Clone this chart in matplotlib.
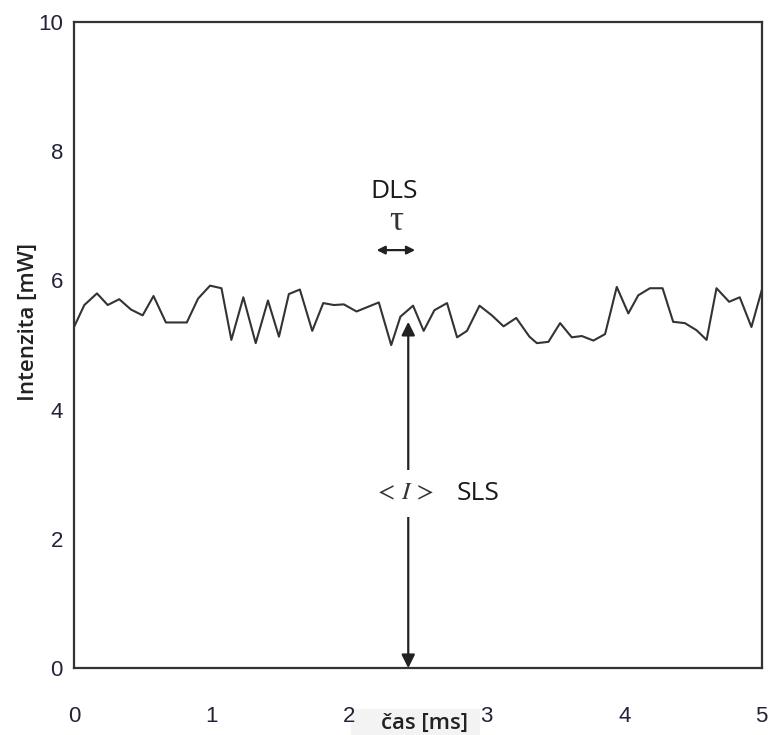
import matplotlib.pyplot as plt
from matplotlib.patches import Rectangle

# time [ms] and intensity [mW]
cas = [0.0, 0.075, 0.167, 0.245, 0.329, 0.414, 0.499, 0.578, 0.668, 0.820,
       0.902, 0.989, 1.072, 1.144, 1.231, 1.321, 1.410, 1.490, 1.562, 1.642,
       1.732, 1.812, 1.889, 1.962, 2.054, 2.216, 2.306, 2.373, 2.465, 2.542,
       2.620, 2.712, 2.785, 2.857, 2.948, 3.038, 3.123, 3.215, 3.311, 3.365,
       3.449, 3.534, 3.619, 3.692, 3.776, 3.861, 3.946, 4.030, 4.102, 4.187,
       4.279, 4.356, 4.441, 4.526, 4.599, 4.671, 4.763, 4.840, 4.925, 5.0]
intenzita = [5.28, 5.62, 5.80, 5.62, 5.71, 5.55, 5.46, 5.76, 5.35, 5.35,
             5.72, 5.92, 5.88, 5.08, 5.74, 5.03, 5.69, 5.13, 5.79, 5.86,
             5.22, 5.65, 5.62, 5.63, 5.52, 5.66, 5.00, 5.44, 5.61, 5.22,
             5.54, 5.65, 5.12, 5.22, 5.61, 5.46, 5.29, 5.42, 5.13, 5.03,
             5.05, 5.34, 5.12, 5.14, 5.07, 5.17, 5.90, 5.49, 5.77, 5.88,
             5.88, 5.36, 5.34, 5.23, 5.08, 5.88, 5.67, 5.74, 5.28, 5.85]
xticks = [0, 1, 2, 3, 4, 5]
yticks = [0, 2, 4, 6, 8, 10]

plt.rcParams['font.family'] = ['Open Sans', 'DejaVu Sans']
plt.rcParams['mathtext.fontset'] = 'stix'

fig = plt.figure(figsize=(7.71, 7.35), dpi=100)
# light grey strip behind the x label, kept under the tick labels
fig.patches.append(Rectangle((351 / 771, 0), 129 / 771, 26 / 735,
                             transform=fig.transFigure, facecolor='#f3f3f3',
                             edgecolor='none', zorder=-1))
ax = fig.add_axes([0.096, 0.091, 0.892, 0.879])

ax.plot(cas, intenzita, color='#333333', lw=1.5)

ax.set_xlim(0, 5)
ax.set_ylim(0, 10)
ax.set_xticks(xticks)
ax.set_yticks(yticks)
ax.tick_params(length=0, labelsize=16, colors='#22223a',
               labelfontfamily='Liberation Sans')
ax.tick_params(axis='x', pad=27)
ax.tick_params(axis='y', pad=8)
for s in ax.spines.values():
    s.set_color('#333333')
    s.set_linewidth(1.6)

# SLS arrow
ax.annotate('', xy=(2.43, 5.36), xytext=(2.43, 0.0),
            arrowprops=dict(arrowstyle='<|-|>', color='#222222', lw=1.6,
                            mutation_scale=20, shrinkA=0, shrinkB=0))
ax.text(2.40, 2.71, r'$<\,I\,>$', ha='center', va='center', fontsize=18,
        color='#333333', bbox=dict(facecolor='white', edgecolor='none', pad=8))
ax.text(2.94, 2.71, 'SLS', ha='center', va='center', fontsize=19, color='#1a1a1a')

# DLS arrow
ax.annotate('', xy=(2.20, 6.47), xytext=(2.48, 6.47),
            arrowprops=dict(arrowstyle='<|-|>', color='#222222', lw=1.6,
                            mutation_scale=12, shrinkA=0, shrinkB=0))
ax.text(2.33, 7.37, 'DLS', ha='center', va='center', fontsize=19, color='#1a1a1a')
ax.text(2.34, 6.92, 'τ', ha='center', va='center', fontsize=25, color='#333333',
        family=['Liberation Serif', 'DejaVu Serif'])

fig.text(28 / 771, 1 - 322 / 735, 'Intenzita [mW]', rotation=90, ha='center',
         va='center', fontsize=16, fontweight='semibold', color='#222222')
fig.text(425 / 771, 1 - 723 / 735, 'čas [ms]', ha='center', va='center',
         fontsize=16, fontweight='semibold', color='#222222')

fig.savefig('out.png', dpi=100)
